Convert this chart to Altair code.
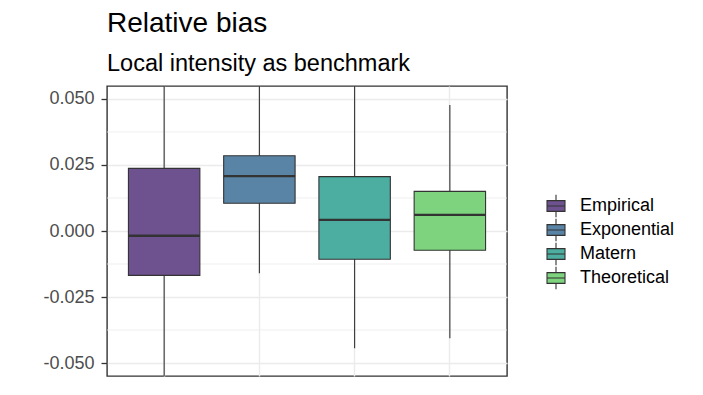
import altair as alt
import pandas as pd

categories = ["Empirical", "Exponential", "Matern", "Theoretical"]
q1 = [-0.0168, 0.0105, -0.0107, -0.0073]
medians = [-0.0018, 0.0208, 0.0042, 0.0061]
q3 = [0.0237, 0.0285, 0.0206, 0.0150]
whisker_low = [-0.0750, -0.0160, -0.0444, -0.0406]
whisker_high = [0.0800, 0.0750, 0.0700, 0.0477]
colors = ["#6E5290", "#5A84A5", "#4BAEA1", "#7DD37E"]
major_ticks = [-0.050, -0.025, 0.000, 0.025, 0.050]
minor_ticks = [-0.0375, -0.0125, 0.0125, 0.0375]

df = pd.DataFrame({
    "method": categories, "q1": q1, "median": medians, "q3": q3,
    "lo": whisker_low, "hi": whisker_high,
})
minor_df = pd.DataFrame({"v": minor_ticks})

FONT = "Liberation Sans"
ydom = [-0.0549, 0.0549]
yscale = alt.Scale(domain=ydom, nice=False, zero=False)
xscale = alt.Scale(domain=categories, paddingInner=0.25, paddingOuter=0.225)

xaxis = alt.Axis(labels=False, ticks=False, domain=False, title=None,
                 grid=True, gridColor="#EBEBEB", gridWidth=1.4, bandPosition=0.5)
yaxis = alt.Axis(values=major_ticks, title=None,
                 labelExpr="replace(format(datum.value, '.3f'), '\u2212', '-')",
                 labelFontSize=18, labelColor="#4D4D4D", labelFont=FONT,
                 tickColor="#333333", tickSize=6, tickWidth=1.3,
                 labelPadding=7, domain=False,
                 grid=True, gridColor="#EBEBEB", gridWidth=1.4)

minor = alt.Chart(minor_df).mark_rule(color="#EBEBEB", strokeWidth=0.8).encode(
    y=alt.Y("v:Q", scale=yscale, axis=yaxis)
)

whiskers = alt.Chart(df).mark_rule(color="#333333", strokeWidth=1.1, clip=True).encode(
    x=alt.X("method:N", scale=xscale, sort=categories, bandPosition=0.5, axis=xaxis),
    y=alt.Y("lo:Q", scale=yscale, axis=yaxis),
    y2="hi:Q",
)

legend_symbol = "M-1,-0.6H1V0.6H-1Z M0,-1.25V-0.6 M0,0.6V1.25 M-1,0H1"

boxes = alt.Chart(df).mark_bar(stroke="#333333", strokeWidth=1.1, clip=True).encode(
    x=alt.X("method:N", scale=xscale, sort=categories, axis=xaxis),
    y=alt.Y("q1:Q", scale=yscale, axis=yaxis),
    y2="q3:Q",
    fill=alt.Fill("method:N", sort=categories,
                  scale=alt.Scale(domain=categories, range=colors),
                  legend=alt.Legend(title=None, orient="none", legendX=439, legendY=110,
                                    symbolType=legend_symbol, symbolSize=324,
                                    symbolStrokeColor="#333333", symbolStrokeWidth=1.1,
                                    labelFontSize=18, labelFont=FONT, labelColor="#000000",
                                    rowPadding=-6, labelOffset=14)),
)

med = alt.Chart(df).mark_bar(stroke="#333333", strokeWidth=2.3, fillOpacity=0).encode(
    x=alt.X("method:N", scale=xscale, sort=categories, axis=xaxis),
    y=alt.Y("median:Q", scale=yscale, axis=yaxis),
    y2="median:Q",
)

chart = alt.layer(minor, whiskers, boxes, med).properties(
    width=400, height=290,
    autosize=alt.AutoSizeParams(type="none"),
    padding={"left": 99, "top": 78, "right": 180, "bottom": 11},
    title=alt.TitleParams("Relative bias", subtitle="Local intensity as benchmark",
                          anchor="start", frame="group", font=FONT, fontSize=28,
                          fontWeight="normal", color="#000000",
                          subtitleFont=FONT, subtitleFontSize=23.5,
                          subtitleColor="#000000", offset=11, subtitlePadding=14),
).configure(background="white").configure_view(stroke="#333333", strokeWidth=1.4)

chart.save("out.html", embed_options={"renderer": "svg", "actions": False})
